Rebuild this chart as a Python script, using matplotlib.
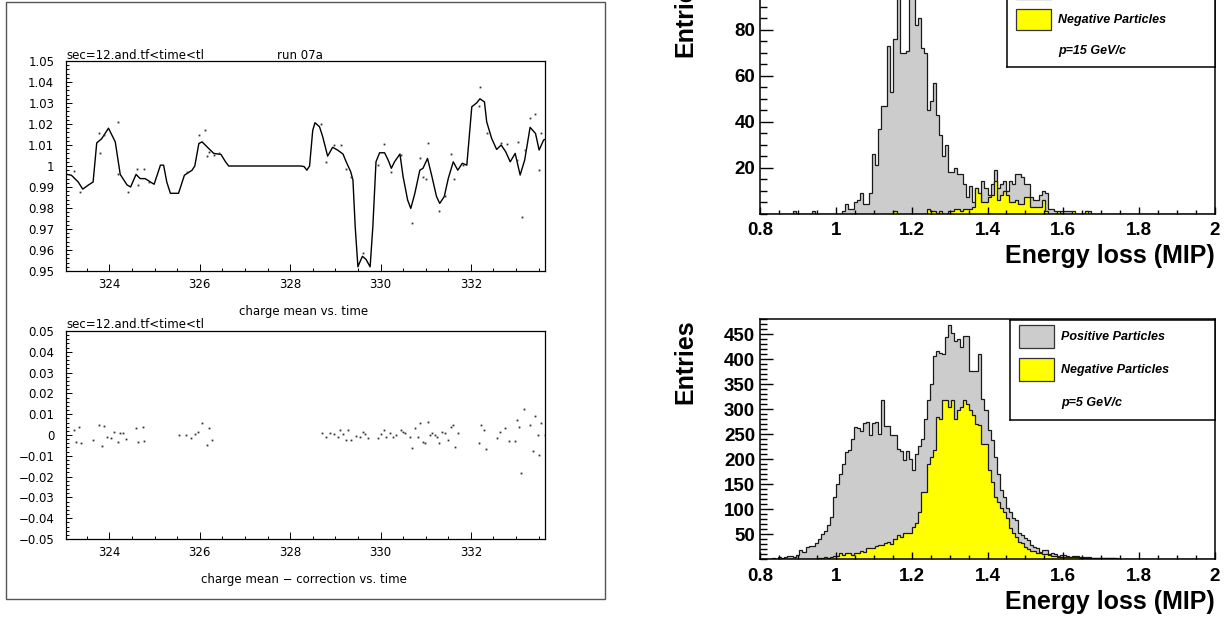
import numpy as np
import matplotlib
matplotlib.use("Agg")
import matplotlib.pyplot as plt
from matplotlib.patches import Rectangle
from matplotlib.ticker import MultipleLocator

W, H = 1226, 621

# ---------------- left page: charge mean vs. time (run 07a) ----------------
curve_t = [323.04, 323.16, 323.31, 323.41, 323.54, 323.64, 323.72, 323.83, 323.98, 324.13,
           324.24, 324.39, 324.47, 324.59, 324.68, 324.79, 324.99, 325.13, 325.2, 325.27,
           325.35, 325.53, 325.66, 325.83, 325.89, 325.98, 326.05, 326.2, 326.31, 326.47,
           326.57, 326.64, 328.24, 328.31, 328.37, 328.43, 328.5, 328.55, 328.65, 328.72,
           328.83, 328.94, 329.05, 329.17, 329.24, 329.34, 329.39, 329.44, 329.5, 329.53,
           329.6, 329.68, 329.77, 329.83, 329.9, 329.98, 330.09, 330.17, 330.24, 330.31,
           330.43, 330.5, 330.6, 330.67, 330.76, 330.87, 330.94, 331.04, 331.13, 331.24,
           331.31, 331.41, 331.5, 331.61, 331.71, 331.81, 331.91, 332.02, 332.13, 332.2,
           332.3, 332.35, 332.46, 332.57, 332.67, 332.77, 332.87, 332.98, 333.09, 333.19,
           333.31, 333.43, 333.51, 333.61, 333.68]
curve_v = [0.9961, 0.9956, 0.9924, 0.989, 0.991, 0.9924, 1.011, 1.013, 1.018, 1.0115,
           0.996, 0.991, 0.990, 0.996, 0.994, 0.994, 0.9913, 1.0004, 1.0004, 0.9924,
           0.987, 0.987, 0.9956, 0.998, 1.0, 1.0107, 1.0115, 1.0083, 1.006, 1.0055,
           1.002, 1.0, 1.0, 0.9997, 0.998, 1.0, 1.017, 1.0206, 1.0187, 1.014,
           1.0047, 1.0089, 1.0076, 1.0057, 1.002, 0.9973, 0.9933, 0.971, 0.952, 0.9536,
           0.957, 0.9555, 0.952, 0.971, 1.002, 1.0063, 1.0063, 1.0028, 0.9989, 1.002,
           1.0057, 0.9949, 0.9838, 0.9798, 0.987, 0.998, 0.9989, 1.0036, 0.9957, 0.9854,
           0.9822, 0.9854, 0.9941, 1.002, 0.998, 1.0013, 1.0004, 1.0282, 1.0301, 1.032,
           1.0305, 1.021, 1.0131, 1.0079, 1.01, 1.0068, 1.002, 1.006, 0.9957, 1.0028,
           1.0184, 1.0155, 1.0076, 1.0124, 1.013]

dots_t = [323.21, 323.36, 323.76, 323.87, 324.18, 323.79, 324.18, 324.41, 324.61, 324.76,
          324.64, 324.87, 325.72, 325.99, 326.11, 326.21, 326.16, 326.31, 326.42,
          328.68, 328.8, 328.98, 329.13, 329.24, 329.35, 329.61, 329.94, 330.08, 330.23,
          330.46, 330.7, 330.87, 330.94, 331.04, 331.0, 331.29, 331.43, 331.56, 331.63,
          331.83, 332.17, 332.2, 332.35, 332.67, 332.8, 333.04, 333.02, 333.13, 333.19,
          333.31, 333.41, 333.51, 333.56]
dots_v = [0.9977, 0.9874, 1.0155, 1.0147, 1.021, 1.006, 0.996, 0.9874, 0.9986, 0.9988,
          0.991, 0.9924, 0.9972, 1.0147, 1.0171, 1.0068, 1.0048, 1.0052, 1.006,
          1.02, 1.002, 1.01, 1.01, 0.9984, 0.9949, 0.9587, 1.0004, 1.0104, 0.9973,
          1.0052, 0.9727, 1.0036, 0.9949, 1.011, 0.994, 0.9787, 0.9857, 1.0057, 0.9936,
          1.0004, 1.0285, 1.0375, 1.0155, 1.0108, 1.0103, 1.0116, 1.0028, 0.9755, 1.0076,
          1.0227, 1.0247, 0.9981, 1.0155]

resid_t = [323.21, 323.32, 323.27, 323.38, 323.64, 323.77, 323.83, 323.88, 323.94, 324.03,
           324.11, 324.2, 324.24, 324.31, 324.37, 324.58, 324.63, 324.74, 324.77,
           325.53, 325.69, 325.81, 325.9, 325.96, 326.05, 326.15, 326.2, 326.26,
           328.7, 328.8, 328.89, 328.98, 329.07, 329.11, 329.16, 329.23, 329.28, 329.35,
           329.46, 329.54, 329.61, 329.65, 329.72, 329.94, 330.02, 330.08, 330.13, 330.2,
           330.28, 330.35, 330.45, 330.5, 330.55, 330.65, 330.7, 330.76, 330.82, 330.87,
           330.94, 330.98, 331.04, 331.09, 331.14, 331.2, 331.24, 331.29, 331.35, 331.42,
           331.5, 331.56, 331.61, 331.65, 331.72,
           332.17, 332.22, 332.28, 332.34, 332.57, 332.65, 332.76, 332.85, 332.97, 333.02,
           333.07, 333.11, 333.17, 333.31, 333.37, 333.41, 333.48, 333.51, 333.56, 333.65]
resid_v = [0.0024, 0.004, -0.0032, -0.0037, -0.0024, 0.0048, -0.0053, 0.0043, -0.0008, -0.0016,
           0.0016, -0.0032, 0.0011, 0.0008, -0.002, 0.0032, -0.0032, 0.0037, -0.0029,
           0.0, 0.0, -0.0016, 0.0005, 0.0016, 0.0056, -0.0048, 0.0032, -0.0024,
           0.0011, -0.0008, 0.0008, 0.0005, -0.0008, 0.0024, 0.0005, -0.0024, 0.0024, -0.0024,
           -0.0003, -0.0008, 0.0016, 0.0005, -0.0016, -0.0016, 0.0005, 0.0024, -0.0008, 0.0011,
           -0.0008, 0.0, 0.0024, 0.0016, 0.0008, -0.0008, -0.0064, 0.0032, -0.0008, 0.0056,
           -0.0032, -0.0037, 0.0064, 0.0, 0.0011, 0.0, -0.0008, -0.004, 0.0016, 0.0008,
           -0.0024, 0.004, 0.0048, -0.0056, 0.0008,
           -0.0037, 0.0048, 0.0024, -0.0069, -0.0016, 0.0016, 0.0032, -0.0027, -0.0027, 0.0072,
           0.004, -0.0181, 0.0123, 0.0048, -0.0077, 0.0091, 0.0, -0.0096, 0.0059, 0.0]

time_ticks = [324, 326, 328, 330, 332]
time_labels = ["324", "326", "328", "330", "332"]
mean_ticks = [0.95, 0.96, 0.97, 0.98, 0.99, 1.0, 1.01, 1.02, 1.03, 1.04, 1.05]
mean_labels = ["0.95", "0.96", "0.97", "0.98", "0.99", "1", "1.01", "1.02", "1.03", "1.04", "1.05"]
corr_ticks = [-0.05, -0.04, -0.03, -0.02, -0.01, 0.0, 0.01, 0.02, 0.03, 0.04, 0.05]
corr_labels = ["\u22120.05", "\u22120.04", "\u22120.03", "\u22120.02", "\u22120.01", "0",
               "0.01", "0.02", "0.03", "0.04", "0.05"]

# ---------------- right page: energy loss histograms ----------------
# 150 bins of 0.008 MIP between 0.8 and 2.0
pos_15 = ([0] * 11 + [1] + [0] * 5 + [1] + [0] * 9 +
          [1, 4, 2, 2, 5, 6, 9, 4, 4, 9,
           26, 21, 37, 47, 47, 73, 53, 76, 96, 70,
           70, 71, 97, 99, 82, 85, 72, 70, 45, 49,
           57, 43, 34, 25, 30, 18, 18, 20, 17, 17,
           13, 7, 12, 5, 11, 5, 14, 11, 8, 13,
           19, 11, 13, 14, 10, 14, 13, 17, 17, 16,
           13, 13, 7, 6, 6, 8, 10, 9, 2, 2,
           1, 0, 1, 1, 1, 1, 0, 0, 0, 0, 1, 1] + [0] * 41)
neg_15 = ([0] * 44 + [1] + [0] * 10 +
          [2, 1, 1, 0, 1, 0, 0, 1, 1, 2,
           2, 1, 2, 2, 2, 3, 11, 9, 5, 5,
           7, 8, 14, 6, 8, 10, 8, 5, 5, 6,
           4, 4, 7, 7, 3, 3, 3, 3, 6, 1,
           0, 0, 0, 1, 0, 0, 0, 0, 1, 0, 0, 0, 1] + [0] * 42)
pos_5 = ([1, 0, 1, 0, 2, 1, 4, 3, 4, 6,
          6, 4, 9, 19, 15, 25, 27, 26, 33, 41,
          50, 57, 68, 85, 124, 150, 170, 190, 215, 218,
          241, 264, 262, 256, 273, 274, 248, 273, 274, 250,
          319, 266, 266, 248, 248, 220, 217, 198, 216, 201,
          179, 210, 227, 241, 281, 319, 350, 407, 416, 412,
          410, 444, 468, 452, 437, 440, 424, 447, 447, 377,
          377, 377, 411, 321, 298, 258, 238, 205, 171, 138,
          125, 102, 95, 82, 78, 52, 49, 42, 38, 29,
          24, 22, 15, 19, 19, 11, 12, 10, 7, 9,
          8, 7, 5, 6, 6, 5, 4, 4, 4, 3,
          3, 3, 3, 2, 2, 2, 2, 2, 1, 1,
          1, 1, 1, 1, 1] + [0] * 25)
neg_5 = ([0] * 18 +
         [1, 2,
          3, 4, 3, 5, 6, 7, 12, 9, 12, 12,
          9, 13, 13, 17, 15, 22, 23, 23, 27, 29,
          29, 32, 35, 30, 40, 48, 45, 52, 53, 53,
          65, 72, 95, 135, 135, 191, 205, 218, 284, 281,
          318, 318, 304, 319, 281, 298, 304, 318, 311, 298,
          288, 271, 268, 231, 231, 178, 155, 125, 115, 102,
          95, 82, 62, 52, 45, 35, 32, 25, 20, 17,
          17, 12, 12, 11, 11, 8, 7, 7, 5, 5,
          4, 4, 4, 4, 4, 3, 3, 3, 3, 3,
          2, 2, 2, 2, 2, 2, 2, 1, 1, 1,
          1] + [0] * 29)

energy_edges = np.linspace(0.8, 2.0, 151)
energy_ticks = [0.8, 1.0, 1.2, 1.4, 1.6, 1.8, 2.0]
energy_labels = ["0.8", "1", "1.2", "1.4", "1.6", "1.8", "2"]
entries15_ticks = [20, 40, 60, 80, 100]
entries5_ticks = [50, 100, 150, 200, 250, 300, 350, 400, 450]

GREY = "#cccccc"
YELLOW = "#ffff00"
EDGE = "#1a1a1a"
BOLD = dict(family="Liberation Sans", weight="bold")


def px_axes(fig, x0, y0, x1, y1):
    # axes placed from pixel box (top-left origin)
    return fig.add_axes([x0 / W, 1 - y1 / H, (x1 - x0) / W, (y1 - y0) / H])


def style_time_axes(ax, yticks, ylabels):
    ax.set_xlim(323.04, 333.64)
    ax.set_ylim(yticks[0], yticks[-1])
    ax.set_xticks(time_ticks, time_labels, fontsize=8.5)
    ax.set_yticks(yticks, ylabels, fontsize=8.5)
    ax.xaxis.set_minor_locator(MultipleLocator(0.5))
    ax.yaxis.set_minor_locator(MultipleLocator(0.002))
    ax.tick_params(which="both", direction="in", top=False, right=False, width=0.7)
    ax.tick_params(axis="x", which="major", length=5, pad=5)
    ax.tick_params(axis="x", which="minor", length=2.5)
    ax.tick_params(axis="y", which="major", length=4, pad=8.5)
    ax.tick_params(axis="y", which="minor", length=2)
    for s in ax.spines.values():
        s.set_linewidth(0.9)


def style_energy_axes(ax, ymax, yticks, yminor):
    ax.set_xlim(0.8, 2.0)
    ax.set_ylim(0, ymax)
    ax.set_xticks(energy_ticks, energy_labels, fontsize=13.5, **BOLD)
    ax.set_yticks(yticks, [str(v) for v in yticks], fontsize=13.5, **BOLD)
    ax.xaxis.set_minor_locator(MultipleLocator(0.05))
    ax.yaxis.set_minor_locator(MultipleLocator(yminor))
    ax.tick_params(which="both", direction="in", top=False, right=False, width=1.0)
    ax.tick_params(axis="x", which="major", length=5, pad=6)
    ax.tick_params(axis="x", which="minor", length=2.7)
    ax.tick_params(axis="y", which="major", length=9, pad=3.5)
    ax.tick_params(axis="y", which="minor", length=4.8)
    for s in ax.spines.values():
        s.set_linewidth(1.1)


def draw_hists(ax, pos, neg):
    ax.stairs(pos, energy_edges, fill=True, facecolor=GREY, edgecolor="none")
    ax.stairs(pos, energy_edges, color=EDGE, lw=0.9)
    ax.stairs(neg, energy_edges, fill=True, facecolor=YELLOW, edgecolor="none")
    ax.stairs(neg, energy_edges, color=EDGE, lw=0.9)


def legend_box(fig, x0, y0, x1, y1, momentum):
    lax = px_axes(fig, x0, y0, x1, y1)
    lax.set_xlim(0, 1)
    lax.set_ylim(1, 0)
    lax.set_xticks([])
    lax.set_yticks([])
    lax.set_facecolor("white")
    for s in lax.spines.values():
        s.set_linewidth(1.1)
    pw = 35 / (x1 - x0)
    px = 9 / (x1 - x0)
    lax.add_patch(Rectangle((px, 0.05), pw, 0.23, fc=GREY, ec="#333333", lw=0.9))
    lax.add_patch(Rectangle((px, 0.38), pw, 0.23, fc=YELLOW, ec="#333333", lw=0.9))
    tx = 51 / (x1 - x0)
    kw = dict(va="center", ha="left", fontsize=9, family="Liberation Sans",
              weight="bold", style="italic")
    lax.text(tx, 0.17, "Positive Particles", **kw)
    lax.text(tx, 0.50, "Negative Particles", **kw)
    lax.text(tx, 0.83, momentum, **kw)


fig = plt.figure(figsize=(W / 100, H / 100), dpi=100)
plt.rcParams["font.family"] = ["DejaVu Sans"]

# left page frame
fig.add_artist(Rectangle((6 / W, 1 - 599 / H), 599 / W, 597 / H, transform=fig.transFigure,
                         fill=False, ec="#555555", lw=1.0))

ax1 = px_axes(fig, 66, 61, 545, 271)
ax1.plot(curve_t, curve_v, color="black", lw=1.0)
ax1.plot(dots_t, dots_v, ls="none", marker="s", ms=1.3, mew=0, color="#333333")
style_time_axes(ax1, mean_ticks, mean_labels)

ax2 = px_axes(fig, 66, 331, 545, 539)
ax2.plot(resid_t, resid_v, ls="none", marker="s", ms=1.3, mew=0, color="#333333")
style_time_axes(ax2, corr_ticks, corr_labels)

small = dict(fontsize=8.5, va="center")
fig.text(66 / W, 1 - 55.5 / H, "sec=12.and.tf<time<tl", ha="left", **small)
fig.text(300 / W, 1 - 55.5 / H, "run 07a", ha="center", **small)
fig.text(304 / W, 1 - 312 / H, "charge mean vs. time", ha="center", **small)
fig.text(66 / W, 1 - 325 / H, "sec=12.and.tf<time<tl", ha="left", **small)
fig.text(304 / W, 1 - 580 / H, "charge mean \u2212 correction vs. time", ha="center", **small)

# right page: p = 15 GeV/c (top, partly cut off) and p = 5 GeV/c (bottom)
ax3 = px_axes(fig, 760, -27.5, 1215, 213.5)
draw_hists(ax3, pos_15, neg_15)
style_energy_axes(ax3, 105, entries15_ticks, 5)
legend_box(fig, 1007, -27, 1215, 67, "p=15 GeV/c")

ax4 = px_axes(fig, 760, 319.3, 1215, 559.3)
draw_hists(ax4, pos_5, neg_5)
style_energy_axes(ax4, 480, entries5_ticks, 10)
legend_box(fig, 1010, 320, 1215, 420, "p=5 GeV/c")

for ytop, ybot in [(-27.5, 213.5), (319.3, 559.3)]:
    fig.text(685 / W, 1 - ytop / H, "Entries", rotation=90, ha="center", va="top",
             fontsize=18, **BOLD)
    fig.text(1215 / W, 1 - (ybot + 42.5) / H, "Energy loss (MIP)", ha="right", va="center",
             fontsize=18, **BOLD)

fig.savefig("out.png", dpi=100)
